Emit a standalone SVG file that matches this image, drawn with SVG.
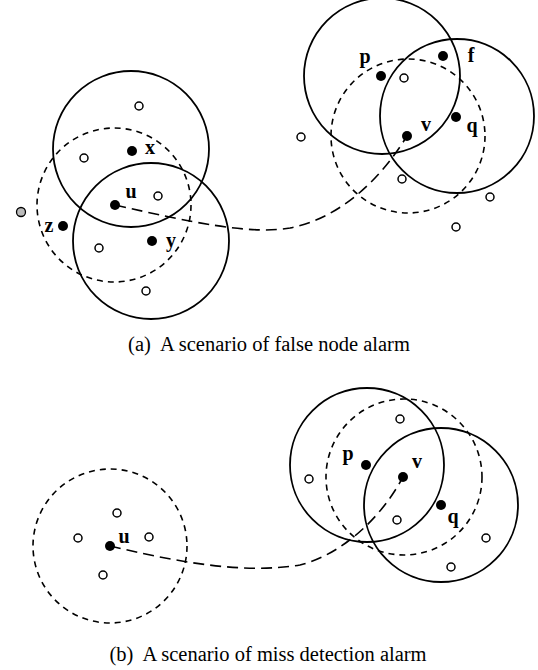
<svg xmlns="http://www.w3.org/2000/svg" width="538" height="670" viewBox="0 0 538 670">
<style>
.rng{fill:none;stroke:#000;stroke-width:1.8}
.drng{fill:none;stroke:#000;stroke-width:1.6;stroke-dasharray:6,5}
.conn{fill:none;stroke:#000;stroke-width:1.6;stroke-dasharray:11,6}
.dot{fill:#000}
.open{fill:#fff;stroke:#000;stroke-width:1.5}
.gray{fill:#bbb;stroke:#000;stroke-width:1.3}
.lbl{font-family:"Liberation Serif",serif;font-weight:bold;font-size:20px;text-anchor:middle}
.cap{font-family:"Liberation Serif",serif;font-size:20.5px;text-anchor:middle}
</style>
<rect width="538" height="670" fill="#fff"/>
<g id="ranges-a">
<circle class="rng" cx="131" cy="149" r="78"/>
<circle class="rng" cx="151" cy="241" r="78"/>
<circle class="drng" cx="114" cy="205" r="77"/>
<circle class="rng" cx="382" cy="76" r="78"/>
<circle class="rng" cx="457" cy="116" r="77"/>
<circle class="drng" cx="408" cy="136" r="77"/>
</g>
<g id="connectors">
<path class="conn" d="M115,205 C190,222 250,235 290,228 C340,218 380,180 407,136"/>
<path class="conn" d="M110,546 C170,560 240,575 300,565 C340,555 380,520 403,477"/>
</g>
<g id="others-a">
<circle class="open" cx="139" cy="106" r="4"/>
<circle class="open" cx="84" cy="158" r="4"/>
<circle class="open" cx="158" cy="196" r="4"/>
<circle class="open" cx="99" cy="248" r="4"/>
<circle class="open" cx="146" cy="291" r="4"/>
<circle class="gray" cx="21" cy="212" r="4.5"/>
<circle class="open" cx="404" cy="78" r="4"/>
<circle class="open" cx="301" cy="137" r="4"/>
<circle class="open" cx="402" cy="179" r="4"/>
<circle class="open" cx="490" cy="197" r="4"/>
<circle class="open" cx="456" cy="227" r="4"/>
</g>
<g id="node-x"><circle class="dot" cx="132" cy="151" r="5"/><text class="lbl" x="150" y="154">x</text></g>
<g id="node-u-a"><circle class="dot" cx="115" cy="205" r="5"/><text class="lbl" x="131" y="198">u</text></g>
<g id="node-z"><circle class="dot" cx="63" cy="226" r="5"/><text class="lbl" x="49" y="232">z</text></g>
<g id="node-y"><circle class="dot" cx="152" cy="241" r="5"/><text class="lbl" x="171" y="247">y</text></g>
<g id="node-p-a"><circle class="dot" cx="381" cy="76" r="5"/><text class="lbl" x="365" y="63">p</text></g>
<g id="node-f"><circle class="dot" cx="443" cy="56" r="5"/><text class="lbl" x="471" y="62">f</text></g>
<g id="node-q-a"><circle class="dot" cx="456" cy="117" r="5"/><text class="lbl" x="472" y="132">q</text></g>
<g id="node-v-a"><circle class="dot" cx="407" cy="136" r="5"/><text class="lbl" x="426" y="131">v</text></g>
<text class="cap" x="269" y="351" xml:space="preserve">(a)  A scenario of false node alarm</text>
<g id="ranges-b">
<circle class="drng" cx="110" cy="546" r="77"/>
<circle class="rng" cx="367" cy="465" r="77"/>
<circle class="rng" cx="441" cy="505" r="77"/>
<circle class="drng" cx="404" cy="477" r="78"/>
</g>
<g id="others-b">
<circle class="open" cx="117" cy="513" r="4"/>
<circle class="open" cx="78" cy="538" r="4"/>
<circle class="open" cx="149" cy="537" r="4"/>
<circle class="open" cx="103" cy="575" r="4"/>
<circle class="open" cx="400" cy="419" r="4"/>
<circle class="open" cx="309" cy="479" r="4"/>
<circle class="open" cx="397" cy="520" r="4"/>
<circle class="open" cx="486" cy="538" r="4"/>
<circle class="open" cx="451" cy="567" r="4"/>
</g>
<g id="node-u-b"><circle class="dot" cx="110" cy="546" r="5"/><text class="lbl" x="124" y="543">u</text></g>
<g id="node-p-b"><circle class="dot" cx="366" cy="465" r="5"/><text class="lbl" x="348" y="460">p</text></g>
<g id="node-v-b"><circle class="dot" cx="403" cy="477" r="5"/><text class="lbl" x="417" y="468">v</text></g>
<g id="node-q-b"><circle class="dot" cx="441" cy="505" r="5"/><text class="lbl" x="453" y="523">q</text></g>
<text class="cap" x="268" y="661" xml:space="preserve">(b)  A scenario of miss detection alarm</text>
</svg>
